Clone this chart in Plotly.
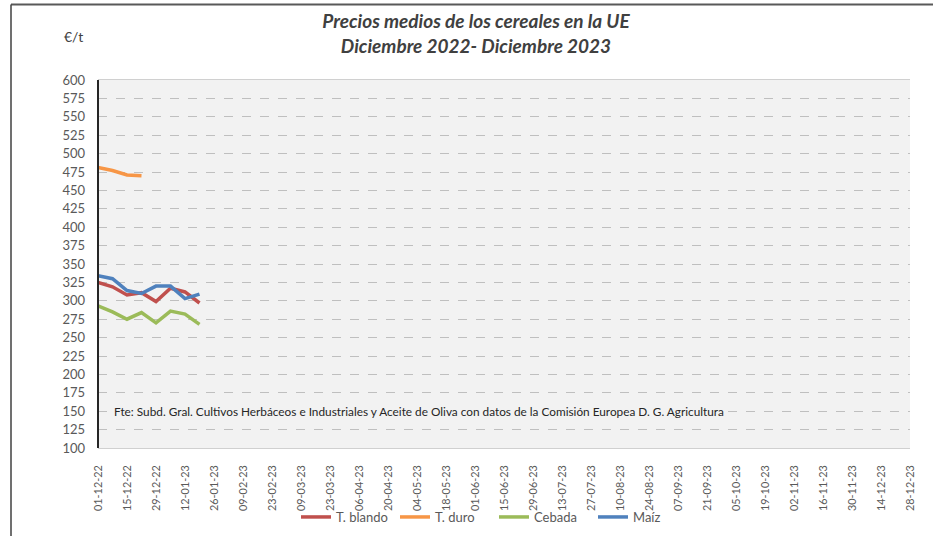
import pandas as pd
import plotly.graph_objects as go

# Categories: weekly dates 01-12-22 .. 28-12-23
dates = [d.strftime("%d-%m-%y") for d in pd.date_range("2022-12-01", "2023-12-28", freq="7D")]
tick_labels = dates[::2]

t_blando = [325, 319, 308, 311, 299, 317, 312, 297]
t_duro = [481, 477, 471, 470]
cebada = [293, 285, 275, 284, 270, 286, 282, 268]
maiz = [334, 330, 314, 310, 320, 320, 303, 309]

series = [
    ("T. blando", t_blando, "#C0504D"),
    ("T. duro", t_duro, "#F79646"),
    ("Cebada", cebada, "#9BBB59"),
    ("Maíz", maiz, "#4F81BD"),
]

FONT = "Lato, 'Open Sans', sans-serif"

fig = go.Figure()
for name, vals, col in series:
    fig.add_trace(go.Scatter(
        x=dates[:len(vals)], y=vals, name=name, mode="lines",
        line=dict(color=col, width=3.5),
    ))

W, H = 933, 536
L, R, T, B = 98, 23, 80, 88
pw, ph = W - L - R, H - T - B

def px_x(x):
    return (x - L) / pw

def px_y(y):
    return (H - B - y) / ph

fig.update_layout(
    width=W, height=H,
    margin=dict(l=L, r=R, t=T, b=B, autoexpand=False),
    paper_bgcolor="white",
    plot_bgcolor="#F2F2F2",
    font=dict(family=FONT, color="#595959", size=12),
    title=dict(
        text="<i>Precios medios de los cereales en la UE<br>Diciembre 2022- Diciembre 2023</i>",
        x=476 / W, xanchor="center", y=1 - 28 / H, yanchor="middle",
        font=dict(family=FONT, size=19, color="#404040", weight="bold"),
    ),
    showlegend=True,
    legend=dict(
        orientation="h", x=px_x(494), xanchor="center", y=px_y(517), yanchor="middle",
        font=dict(size=13, color="#595959"), bgcolor="rgba(0,0,0,0)",
        itemwidth=30, tracegroupgap=0, entrywidth=54,
    ),
    xaxis=dict(
        type="category", categoryorder="array", categoryarray=dates,
        range=[0, len(dates) - 1],
        tickmode="array", tickvals=tick_labels, ticktext=tick_labels,
        tickangle=-90, tickfont=dict(size=10.8, color="#595959"),
        showgrid=False, zeroline=False,
        showline=True, linecolor="#D0D0D0", linewidth=1, mirror=True,
        ticks="", ticklen=0, ticklabelstandoff=12,
    ),
    yaxis=dict(
        range=[100, 600], dtick=25, tick0=100,
        tickfont=dict(size=13, color="#595959"),
        showgrid=True, gridcolor="#BFBFBF", griddash="dash", gridwidth=1,
        zeroline=False, showline=False, ticks="", ticklabelstandoff=12,
    ),
    shapes=[
        dict(type="line", xref="paper", yref="paper", x0=0, x1=0, y0=0, y1=1,
             line=dict(color="#262626", width=2)),
        dict(type="line", xref="paper", yref="paper", x0=px_x(11), x1=px_x(940),
             y0=px_y(4.5), y1=px_y(4.5), line=dict(color="#595959", width=2)),
        dict(type="line", xref="paper", yref="paper", x0=px_x(11), x1=px_x(11),
             y0=px_y(4.5), y1=px_y(540), line=dict(color="#404040", width=1.5)),
    ],
    annotations=[
        dict(text="€/t", xref="paper", yref="paper", x=px_x(62), y=px_y(37),
             xanchor="left", yanchor="middle", showarrow=False,
             font=dict(size=14, color="#404040")),
        dict(text="Fte: Subd. Gral. Cultivos Herbáceos e Industriales y Aceite de Oliva con datos de la Comisión Europea D. G. Agricultura",
             xref="paper", yref="paper", x=px_x(112), y=px_y(411),
             xanchor="left", yanchor="middle", showarrow=False,
             bgcolor="#F2F2F2", font=dict(size=11.8, color="#262626")),
    ],
)

fig.write_html("out.html", config={"displayModeBar": False},
               post_script="document.body.style.margin='0';")
